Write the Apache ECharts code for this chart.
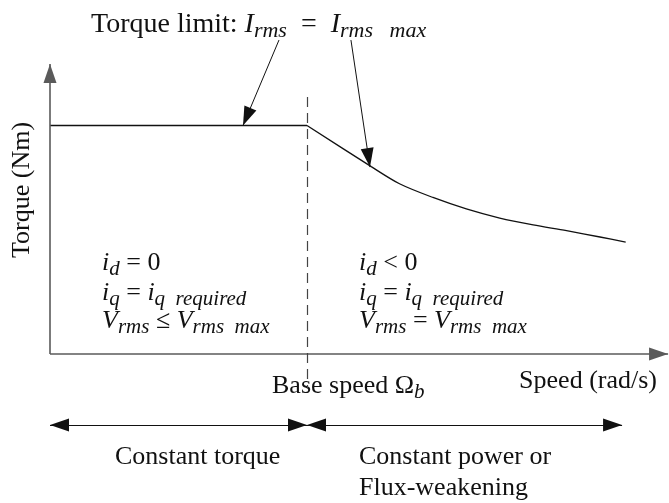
<!DOCTYPE html>
<html>
<head>
<meta charset="utf-8">
<script src="https://cdn.jsdelivr.net/npm/echarts@6/dist/echarts.min.js"></script>
<style>
  html, body { margin: 0; padding: 0; background: #fff; }
  #chart { width: 669px; height: 503px; }
</style>
</head>
<body>
<div id="chart"></div>
<script>
// Torque–speed envelope of a PM machine, normalised: base speed = 1, rated torque = 1
const constantTorqueSpeed  = [0, 1.0];
const constantTorqueValue  = [1.0, 1.0];
const fluxWeakeningSpeed   = [1.0, 1.25, 1.36, 1.49, 1.62, 1.75, 1.88, 2.01, 2.14, 2.24];
const fluxWeakeningTorque  = [1.0, 0.82, 0.745, 0.685, 0.635, 0.595, 0.565, 0.54, 0.512, 0.49];
const baseSpeed = 1.0;

// Annotation anchors (speed, torque) for the "torque limit" pointers
const limitLabelAnchor = [[0.891, 1.374], [1.171, 1.374]];
const limitPointers    = [[0.751, 1.0], [1.245, 0.818]];

// Extents of the drawn axes and region arrows, in the same units
const speedAxisEnd  = 2.405;
const torqueAxisEnd = 1.269;
const regionRow     = -0.311;
const regionEnd     = 2.226;
const dashedSpan    = [1.125, -0.149];

const pairs = (xs, ys) => xs.map((x, i) => [x, ys[i]]);

const SERIF = '"Liberation Serif", "DejaVu Serif", serif';
const INK = '#111';
function richSet(fs, sub) {
  return {
    r: { fontFamily: SERIF, fontSize: fs, lineHeight: fs + 4, color: INK },
    i: { fontFamily: SERIF, fontSize: fs, fontStyle: 'italic', lineHeight: fs + 4, color: INK },
    s: { fontFamily: SERIF, fontSize: sub, fontStyle: 'italic', lineHeight: fs + 4 - 12, padding: [12, 0, 0, 0], color: INK }
  };
}
const FS = 26;
const bodyRich  = richSet(FS, 21);
const titleRich = richSet(28, 22);

const HEAD = [13, 19];
const AXIS_STYLE = { color: '#5a5a5a', width: 1.6, type: 'solid' };
const PTR_STYLE  = { color: '#111', width: 1, type: 'solid' };

function arrow(from, to, style, both) {
  return [
    { coord: from, symbol: both ? 'triangle' : 'none', symbolSize: HEAD, symbolOffset: [0, '50%'], lineStyle: style },
    { coord: to, symbol: 'triangle', symbolSize: HEAD, symbolOffset: [0, '50%'] }
  ];
}

function txt(text, x, y, align, extra, rich) {
  return Object.assign({
    type: 'text', x: x, y: y, silent: true,
    style: { text: text, rich: rich || bodyRich, textAlign: align || 'left', textVerticalAlign: 'middle',
             fontFamily: SERIF, fontSize: FS, fill: INK }
  }, extra || {});
}

const chart = echarts.init(document.getElementById('chart'), null, { renderer: 'canvas' });

const curveStyle = { color: '#111', width: 1.3 };

chart.setOption({
  animation: false,
  backgroundColor: '#fff',
  grid: { left: 0, right: 0, top: 0, bottom: 0 },
  xAxis: {
    type: 'value', min: -50 / 257, max: 619 / 257,
    axisLine: { show: false }, axisTick: { show: false }, axisLabel: { show: false }, splitLine: { show: false }
  },
  yAxis: {
    type: 'value', min: -149 / 228.5, max: 354 / 228.5,
    axisLine: { show: false }, axisTick: { show: false }, axisLabel: { show: false }, splitLine: { show: false }
  },
  series: [
    {
      name: 'Constant torque',
      type: 'line',
      data: pairs(constantTorqueSpeed, constantTorqueValue),
      symbol: 'none',
      clip: false,
      lineStyle: curveStyle
    },
    {
      name: 'Constant power',
      type: 'line',
      data: pairs(fluxWeakeningSpeed, fluxWeakeningTorque),
      smooth: 0.3,
      symbol: 'none',
      clip: false,
      lineStyle: curveStyle,
      markLine: {
        silent: true,
        animation: false,
        symbol: ['none', 'none'],
        label: { show: false },
        emphasis: { disabled: true },
        data: [
          arrow([0, 0], [speedAxisEnd, 0], AXIS_STYLE),
          arrow([0, 0], [0, torqueAxisEnd], AXIS_STYLE),
          arrow(limitLabelAnchor[0], limitPointers[0], PTR_STYLE),
          arrow(limitLabelAnchor[1], limitPointers[1], PTR_STYLE),
          [
            { coord: [baseSpeed, dashedSpan[0]], symbol: 'none', lineStyle: { color: '#444', width: 1.2, type: [10, 6] } },
            { coord: [baseSpeed, dashedSpan[1]], symbol: 'none' }
          ],
          arrow([0, regionRow], [baseSpeed, regionRow], PTR_STYLE, true),
          arrow([baseSpeed, regionRow], [regionEnd, regionRow], PTR_STYLE, true)
        ]
      }
    }
  ],
  graphic: [
    txt('{r|Torque limit: }{i|I}{s|rms}{r|  =  }{i|I}{s|rms   max}', 91, 25, 'left', null, titleRich),
    txt('{r|Torque (Nm)}', 22, 190, 'center', { rotation: Math.PI / 2 }),
    txt('{i|i}{s|d}{r| = 0}', 102, 263),
    txt('{i|i}{s|q}{r| = }{i|i}{s|q  required}', 102, 293),
    txt('{i|V}{s|rms}{r| ≤ }{i|V}{s|rms  max}', 102, 321),
    txt('{i|i}{s|d}{r| < 0}', 359, 263),
    txt('{i|i}{s|q}{r| = }{i|i}{s|q  required}', 359, 293),
    txt('{i|V}{s|rms}{r| = }{i|V}{s|rms  max}', 359, 321),
    txt('{r|Base speed Ω}{s|b}', 272, 386),
    txt('{r|Speed (rad/s)}', 657, 381, 'right'),
    txt('{r|Constant torque}', 115, 457),
    txt('{r|Constant power or}', 359, 457),
    txt('{r|Flux-weakening}', 359, 488)
  ]
});
</script>
</body>
</html>
